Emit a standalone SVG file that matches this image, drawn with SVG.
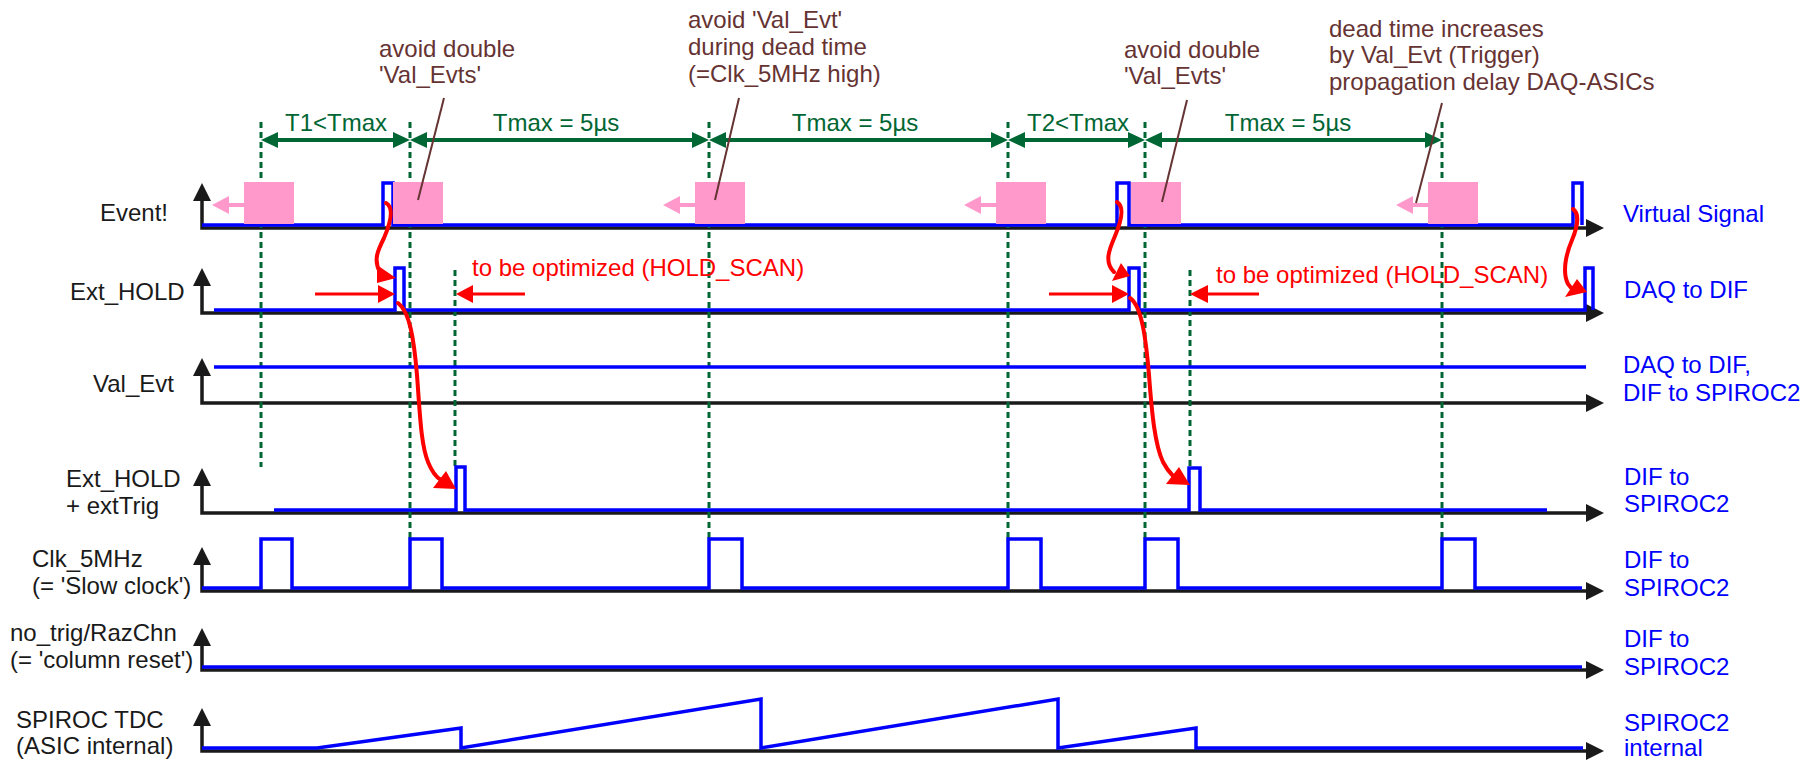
<svg xmlns="http://www.w3.org/2000/svg" width="1804" height="761" viewBox="0 0 1804 761">
<style>
text{font-family:"Liberation Sans",Arial,sans-serif;font-size:24px}
.lbl{fill:#1a1a1a}
.rl{fill:#0000ff}
.gt{fill:#006633}
.br{fill:#663333}
.rt{fill:#ff0000}
.axis{fill:none;stroke:#1a1a1a;stroke-width:3.5;marker-start:url(#ax);marker-end:url(#ax)}
.sig{fill:none;stroke:#0000ff;stroke-width:3.5;stroke-linejoin:miter}
.dash{fill:none;stroke:#006633;stroke-width:3;stroke-dasharray:6 4}
.dim{fill:none;stroke:#006633;stroke-width:4;marker-start:url(#garr);marker-end:url(#garr)}
.pink{fill:#ff99cc}
.lead{stroke:#663333;stroke-width:2;fill:none}
.red{fill:none;stroke:#ff0000;stroke-width:4;stroke-linecap:round}
.redl{fill:none;stroke:#ff0000;stroke-width:3}
.rh{fill:#ff0000}
</style>
<defs>
<marker id="ax" markerUnits="userSpaceOnUse" markerWidth="18" markerHeight="18" refX="0" refY="9" orient="auto-start-reverse"><path d="M0,0 L18,9 L0,18 Z" fill="#1a1a1a"/></marker>
<marker id="garr" markerUnits="userSpaceOnUse" markerWidth="17" markerHeight="16" refX="5" refY="8" orient="auto-start-reverse"><path d="M0,0 L17,8 L0,16 Z" fill="#006633"/></marker>
</defs>
<rect width="1804" height="761" fill="#ffffff"/>

<g id="axes">
<path class="axis" d="M202,201 V228 H1586"/>
<path class="axis" d="M202,286 V313 H1586"/>
<path class="axis" d="M202,376 V403 H1586"/>
<path class="axis" d="M202,486 V513 H1586"/>
<path class="axis" d="M202,565 V591 H1586"/>
<path class="axis" d="M202,646 V670 H1586"/>
<path class="axis" d="M202,726 V751 H1586"/>
</g>

<g id="guides">
<line class="dash" x1="261" y1="122" x2="261" y2="467"/>
<line class="dash" x1="410" y1="122" x2="410" y2="539"/>
<line class="dash" x1="709" y1="122" x2="709" y2="539"/>
<line class="dash" x1="1008" y1="122" x2="1008" y2="539"/>
<line class="dash" x1="1145" y1="122" x2="1145" y2="539"/>
<line class="dash" x1="1442" y1="122" x2="1442" y2="539"/>
<line class="dash" x1="455" y1="270" x2="455" y2="467"/>
<line class="dash" x1="1190" y1="270" x2="1190" y2="467"/>
</g>

<g id="dimensions">
<line class="dim" x1="273" y1="140" x2="398" y2="140"/>
<line class="dim" x1="422" y1="140" x2="697" y2="140"/>
<line class="dim" x1="721" y1="140" x2="996" y2="140"/>
<line class="dim" x1="1020" y1="140" x2="1133" y2="140"/>
<line class="dim" x1="1157" y1="140" x2="1430" y2="140"/>
<text class="gt" x="336" y="131" text-anchor="middle">T1&lt;Tmax</text>
<text class="gt" x="556" y="131" text-anchor="middle">Tmax = 5µs</text>
<text class="gt" x="855" y="131" text-anchor="middle">Tmax = 5µs</text>
<text class="gt" x="1078" y="131" text-anchor="middle">T2&lt;Tmax</text>
<text class="gt" x="1288" y="131" text-anchor="middle">Tmax = 5µs</text>
</g>

<g id="sig-event">
<path class="sig" d="M202,225 H383 V183 H393 V225 H1117 V183 H1129 V225 H1573 V183 H1582 V225"/>
<rect class="pink" x="244" y="182" width="50" height="42"/>
<rect class="pink" x="393" y="182" width="50" height="42"/>
<rect class="pink" x="695" y="182" width="50" height="42"/>
<rect class="pink" x="996" y="182" width="50" height="42"/>
<rect class="pink" x="1131" y="182" width="50" height="42"/>
<rect class="pink" x="1428" y="182" width="50" height="42"/>
<path class="pink" d="M244,203 H229 V196 L212,205 L229,214 V207 H244 Z"/>
<path class="pink" d="M695,203 H680 V196 L663,205 L680,214 V207 H695 Z"/>
<path class="pink" d="M996,203 H981 V196 L964,205 L981,214 V207 H996 Z"/>
<path class="pink" d="M1428,203 H1413 V196 L1396,205 L1413,214 V207 H1428 Z"/>
<text class="lbl" x="100" y="221">Event!</text>
<text class="rl" x="1623" y="222">Virtual Signal</text>
</g>

<g id="sig-exthold">
<path class="sig" d="M214,310 H395 V268 H404 V310 H1129 V268 H1139 V310 H1585 V268 H1593 V310"/>
<text class="lbl" x="70" y="300">Ext_HOLD</text>
<text class="rl" x="1624" y="298">DAQ to DIF</text>
</g>

<g id="sig-valevt">
<path class="sig" d="M214,367 H1586"/>
<text class="lbl" x="93" y="392">Val_Evt</text>
<text class="rl" x="1623" y="373">DAQ to DIF,</text>
<text class="rl" x="1623" y="401">DIF to SPIROC2</text>
</g>

<g id="sig-exttrig">
<path class="sig" d="M274,510 H456 V467 H465 V510 H1189 V468 H1200 V510 H1547"/>
<text class="lbl" x="66" y="487">Ext_HOLD</text>
<text class="lbl" x="66" y="514">+ extTrig</text>
<text class="rl" x="1624" y="485">DIF to</text>
<text class="rl" x="1624" y="512">SPIROC2</text>
</g>

<g id="sig-clk">
<path class="sig" d="M202,588 H261 V539 H292 V588 H410 V539 H442 V588 H709 V539 H742 V588 H1008 V539 H1041 V588 H1145 V539 H1178 V588 H1442 V539 H1475 V588 H1582"/>
<text class="lbl" x="32" y="567">Clk_5MHz</text>
<text class="lbl" x="32" y="594">(= 'Slow clock')</text>
<text class="rl" x="1624" y="568">DIF to</text>
<text class="rl" x="1624" y="596">SPIROC2</text>
</g>

<g id="sig-notrig">
<path class="sig" d="M202,667 H1582"/>
<text class="lbl" x="10" y="641">no_trig/RazChn</text>
<text class="lbl" x="10" y="668">(= 'column reset')</text>
<text class="rl" x="1624" y="647">DIF to</text>
<text class="rl" x="1624" y="675">SPIROC2</text>
</g>

<g id="sig-tdc">
<path class="sig" d="M202,748 H317 L461,728 V748 L761,699 V748 L1058,699 V748 L1196,728 V748 H1583"/>
<text class="lbl" x="16" y="728">SPIROC TDC</text>
<text class="lbl" x="16" y="754">(ASIC internal)</text>
<text class="rl" x="1624" y="731">SPIROC2</text>
<text class="rl" x="1624" y="756">internal</text>
</g>

<g id="annotations">
<line class="lead" x1="444" y1="98" x2="418" y2="200"/>
<line class="lead" x1="739" y1="98" x2="715" y2="200"/>
<line class="lead" x1="1187" y1="100" x2="1162" y2="202"/>
<line class="lead" x1="1442" y1="103" x2="1416" y2="203"/>
<text class="br" x="379" y="57">avoid double</text>
<text class="br" x="379" y="83">'Val_Evts'</text>
<text class="br" x="688" y="28">avoid 'Val_Evt'</text>
<text class="br" x="688" y="55">during dead time</text>
<text class="br" x="688" y="82">(=Clk_5MHz high)</text>
<text class="br" x="1124" y="58">avoid double</text>
<text class="br" x="1124" y="84">'Val_Evts'</text>
<text class="br" x="1329" y="37">dead time increases</text>
<text class="br" x="1329" y="63">by Val_Evt (Trigger)</text>
<text class="br" x="1329" y="90">propagation delay DAQ-ASICs</text>
</g>

<g id="connectors">
<line class="redl" x1="315" y1="294" x2="380" y2="294"/>
<polygon class="rh" points="378,285 378,303 395,294"/>
<line class="redl" x1="525" y1="294" x2="471" y2="294"/>
<polygon class="rh" points="473,285 473,303 456,294"/>
<line class="redl" x1="1049" y1="294" x2="1114" y2="294"/>
<polygon class="rh" points="1112,285 1112,303 1129,294"/>
<line class="redl" x1="1259" y1="294" x2="1206" y2="294"/>
<polygon class="rh" points="1208,285 1208,303 1190,294"/>
<text class="rt" x="472" y="276">to be optimized (HOLD_SCAN)</text>
<text class="rt" x="1216" y="283">to be optimized (HOLD_SCAN)</text>

<path class="red" d="M386,203 C395,208 390,224 384,238 C378,250 373,260 380,272"/>
<polygon class="rh" points="377,265 377,283 396,278"/>
<path class="red" d="M398,303 C410,312 414,340 417,375 C420,415 421,445 428,462 C432,472 436,477 441,480"/>
<polygon class="rh" points="433,488 446,471 456,489"/>
<path class="red" d="M1117,202 C1125,207 1121,222 1115,236 C1109,250 1104,262 1114,272"/>
<polygon class="rh" points="1112,281 1121,263 1130,276"/>
<path class="red" d="M1130,298 C1142,306 1146,340 1149,375 C1152,415 1155,445 1163,462 C1167,470 1171,474 1174,477"/>
<polygon class="rh" points="1166,484 1179,467 1190,485"/>
<path class="red" d="M1573,209 C1580,214 1577,228 1572,240 C1566,254 1562,272 1568,284 L1572,289"/>
<polygon class="rh" points="1565,297 1577,279 1587,292"/>
</g>
</svg>
